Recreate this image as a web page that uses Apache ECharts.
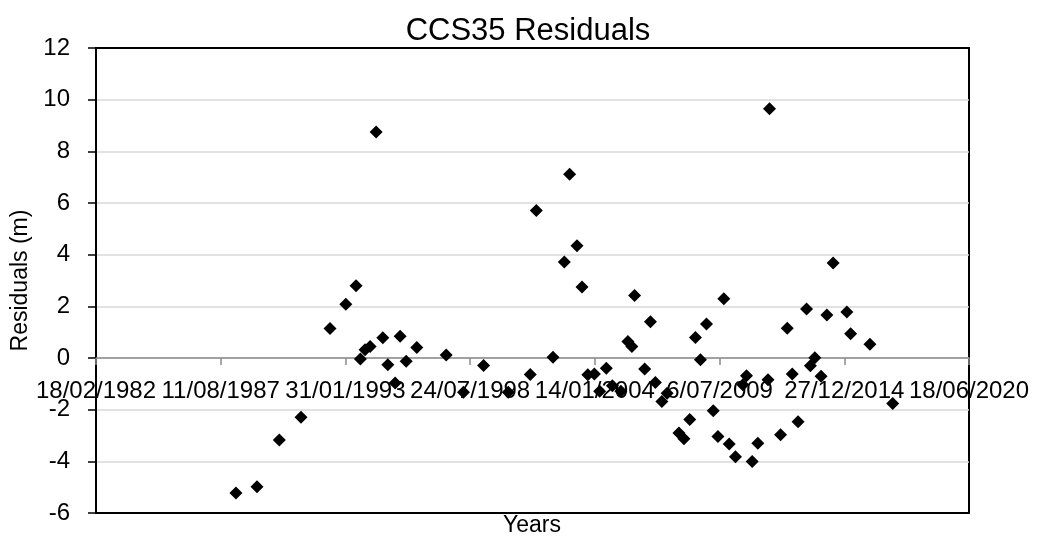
<!DOCTYPE html>
<html>
<head>
<meta charset="utf-8">
<script src="https://cdn.jsdelivr.net/npm/echarts@6/dist/echarts.min.js"></script>
<style>
  html, body { margin: 0; padding: 0; background: #ffffff; }
  #chart { width: 1040px; height: 541px; }
</style>
</head>
<body>
<div id="chart"></div>
<script>
// Survey dates as spreadsheet date serials (days since 30/12/1899)
const dateSerials = [
  32244, 32582, 32940, 33288, 33753, 34006, 34171, 34240, 34315, 34396,
  34492, 34600, 34680, 34797, 34877, 34974, 35145, 35616, 35893, 36215,
  36611, 36964, 37061, 37329, 37510, 37595, 37714, 37794, 37887, 37992,
  38077, 38184, 38281, 38417, 38530, 38594, 38637, 38799, 38891, 38971,
  39075, 39159, 39348, 39429, 39522, 39613, 39693, 39790, 39899, 39974,
  40068, 40154, 40255, 40373, 40432, 40523, 40613, 40777, 40801, 40978,
  41085, 41166, 41259, 41395, 41456, 41527, 41628, 41721, 41821, 42042,
  42102, 42411, 42776
];

// Residual at each survey date (m)
const residuals = [
  -5.23, -4.98, -3.17, -2.29, 1.14, 2.08, 2.80, -0.04, 0.32, 0.45,
  8.75, 0.78, -0.26, -0.97, 0.84, -0.13, 0.41, 0.12, -1.33, -0.29,
  -1.33, -0.64, 5.71, 0.03, 3.72, 7.11, 4.35, 2.75, -0.65, -0.62,
  -1.29, -0.40, -1.07, -1.29, 0.64, 0.45, 2.42, -0.43, 1.40, -0.95,
  -1.68, -1.36, -2.90, -3.13, -2.38, 0.79, -0.07, 1.32, -2.04, -3.04,
  2.29, -3.33, -3.82, -1.04, -0.69, -4.01, -3.30, -0.84, 9.65, -2.97,
  1.15, -0.62, -2.47, 1.90, -0.30, 0.01, -0.71, 1.66, 3.68, 1.78,
  0.94, 0.53, -1.76
];

const chartTitle = 'CCS35 Residuals';
const xAxisTitle = 'Years';
const yAxisTitle = 'Residuals (m)';

// Axis ranges (x in date serials, y in metres)
const xMin = 30000, xMax = 44000, xStep = 2000;
const yMin = -6, yMax = 12, yStep = 2;

function serialToLabel(serial) {
  const d = new Date(Date.UTC(1899, 11, 30) + serial * 86400000);
  const dd = d.getUTCDate();
  const mm = String(d.getUTCMonth() + 1).padStart(2, '0');
  return dd + '/' + mm + '/' + d.getUTCFullYear();
}

const points = dateSerials.map((s, i) => [s, residuals[i]]);
const font = '"Liberation Sans", Arial, sans-serif';

// Plot box in pixels
const W = 1040, H = 541;
const plot = { left: 96, right: 71, top: 48, bottom: 28 };
const plotHeight = H - plot.top - plot.bottom;
// Pixel row of the y = 0 line, where the date axis crosses
const zeroY = plot.top + plotHeight * (yMax - 0) / (yMax - yMin);

const chart = echarts.init(document.getElementById('chart'), null, { renderer: 'canvas' });
chart.setOption({
  animation: false,
  backgroundColor: '#ffffff',
  title: {
    text: chartTitle,
    left: 523,
    top: 11,
    textAlign: 'center',
    textStyle: {
      fontFamily: font,
      fontSize: 31,
      fontWeight: 'normal',
      color: '#000000'
    }
  },
  grid: [
    {
      left: plot.left, right: plot.right, top: plot.top, bottom: plot.bottom,
      outerBoundsMode: 'none',
      containLabel: false,
      show: true,
      borderColor: '#000000',
      borderWidth: 2,
      backgroundColor: 'transparent'
    },
    {
      // upper half of the plot; its bottom edge is the y = 0 line
      left: plot.left, right: plot.right, top: plot.top, bottom: H - zeroY,
      outerBoundsMode: 'none',
      containLabel: false,
      show: false
    }
  ],
  xAxis: [
    {
      gridIndex: 0,
      type: 'value',
      min: xMin, max: xMax, interval: xStep,
      show: false
    },
    {
      gridIndex: 1,
      type: 'value',
      position: 'bottom',
      min: xMin, max: xMax, interval: xStep,
      axisLine: { show: true, onZero: false, lineStyle: { color: '#8c8c8c', width: 1.5 } },
      axisTick: { show: true, inside: false, length: 7, lineStyle: { color: '#8c8c8c', width: 1.5 } },
      splitLine: { show: false },
      axisLabel: {
        formatter: serialToLabel,
        showMinLabel: true, showMaxLabel: true,
        hideOverlap: false,
        margin: 21,
        fontFamily: font, fontSize: 24, color: '#000000'
      }
    }
  ],
  yAxis: [
    {
      gridIndex: 0,
      type: 'value',
      min: yMin, max: yMax, interval: yStep,
      name: yAxisTitle,
      nameLocation: 'middle',
      nameGap: 64,
      nameTextStyle: { fontFamily: font, fontSize: 23, color: '#000000' },
      axisLine: { show: true, onZero: false, lineStyle: { color: '#000000', width: 2 } },
      axisTick: { show: true, inside: false, length: 8, lineStyle: { color: '#000000', width: 1.5 } },
      splitLine: {
        show: true,
        showMinLine: false,
        showMaxLine: false,
        lineStyle: { color: '#d9d9d9', width: 1.5 }
      },
      axisLabel: { margin: 26, fontFamily: font, fontSize: 24, color: '#000000' }
    },
    {
      gridIndex: 1,
      type: 'value',
      min: 0, max: yMax,
      show: false
    }
  ],
  graphic: [{
    type: 'text',
    left: 503, top: 514,
    style: {
      text: xAxisTitle,
      font: '23px ' + font,
      fill: '#000000'
    }
  }],
  series: [{
    type: 'scatter',
    xAxisIndex: 0,
    yAxisIndex: 0,
    data: points,
    symbol: 'diamond',
    symbolSize: 13,
    itemStyle: { color: '#000000', opacity: 1 },
    z: 5
  }]
});
</script>
</body>
</html>
